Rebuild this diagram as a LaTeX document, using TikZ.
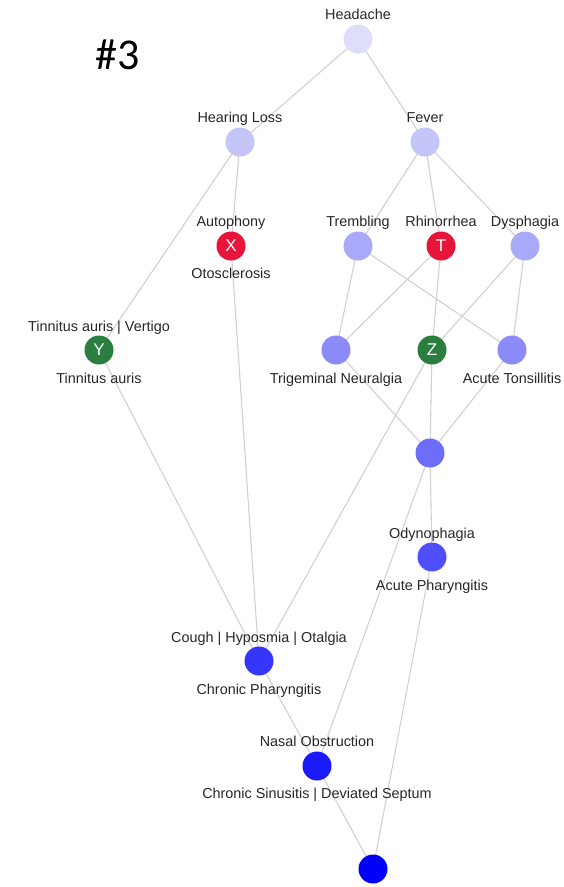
\documentclass[tikz,border=0pt]{standalone}
\usepackage{fontspec}
\setmainfont{Liberation Sans}
\newfontfamily\hashfont{Carlito}
\usetikzlibrary{backgrounds}
\begin{document}
\begin{tikzpicture}[x=1pt,y=-1pt,
  dot/.style={circle,minimum size=29pt,inner sep=0pt,font=\fontsize{17}{17}\selectfont,text=white},
  lbl/.style={anchor=base,inner sep=0pt,font=\fontsize{14.4}{17}\selectfont,text=black!85},
  edge/.style={draw=black!18,line width=1.1pt}]
\useasboundingbox (0,0) rectangle (564,887);
\definecolor{c0}{HTML}{DEDEFB}
\definecolor{c1}{HTML}{C5C5FA}
\definecolor{c2}{HTML}{A9A9FA}
\definecolor{c3}{HTML}{8B8BFA}
\definecolor{c4}{HTML}{6D6DFB}
\definecolor{c5}{HTML}{4E4EFB}
\definecolor{c6}{HTML}{3636FB}
\definecolor{c7}{HTML}{1A1AFB}
\definecolor{c8}{HTML}{0000FA}
\definecolor{cred}{HTML}{E8153A}
\definecolor{cgreen}{HTML}{2A7E3E}

\node[font=\hashfont\fontsize{44}{44}\selectfont,inner sep=0pt] (title) at (118,55) {\#3};

\node[dot,fill=c0] (head) at (358,39) {};
\node[dot,fill=c1] (hl) at (240,142) {};
\node[dot,fill=c1] (fev) at (425,142) {};
\node[dot,fill=cred] (x) at (231,246) {X};
\node[dot,fill=c2] (trem) at (358,246) {};
\node[dot,fill=cred] (t) at (441,246) {T};
\node[dot,fill=c2] (dys) at (525,246) {};
\node[dot,fill=cgreen] (y) at (99,350) {Y};
\node[dot,fill=c3] (trig) at (336,350) {};
\node[dot,fill=cgreen] (z) at (432,350) {Z};
\node[dot,fill=c3] (tons) at (512,350) {};
\node[dot,fill=c4] (mid) at (430,453) {};
\node[dot,fill=c5] (ody) at (432,557) {};
\node[dot,fill=c6] (chr) at (259,661) {};
\node[dot,fill=c7] (nas) at (317,766) {};
\node[dot,fill=c8] (bot) at (373,869) {};

\begin{scope}[on background layer]
\draw[edge] (head.center) -- (hl.center);
\draw[edge] (head.center) -- (fev.center);
\draw[edge] (hl.center) -- (y.center);
\draw[edge] (hl.center) -- (x.center);
\draw[edge] (fev.center) -- (trem.center);
\draw[edge] (fev.center) -- (t.center);
\draw[edge] (fev.center) -- (dys.center);
\draw[edge] (trem.center) -- (trig.center);
\draw[edge] (trem.center) -- (tons.center);
\draw[edge] (t.center) -- (trig.center);
\draw[edge] (t.center) -- (z.center);
\draw[edge] (dys.center) -- (z.center);
\draw[edge] (dys.center) -- (tons.center);
\draw[edge] (trig.center) -- (mid.center);
\draw[edge] (z.center) -- (mid.center);
\draw[edge] (tons.center) -- (mid.center);
\draw[edge] (z.center) -- (chr.center);
\draw[edge] (y.center) -- (chr.center);
\draw[edge] (x.center) -- (chr.center);
\draw[edge] (mid.center) -- (ody.center);
\draw[edge] (mid.center) -- (nas.center);
\draw[edge] (chr.center) -- (nas.center);
\draw[edge] (ody.center) -- (bot.center);
\draw[edge] (nas.center) -- (bot.center);
\end{scope}

\node[lbl] (head-a) at (358,19) {Headache};
\node[lbl] (hl-a) at (240,122) {Hearing Loss};
\node[lbl] (fev-a) at (425,122) {Fever};
\node[lbl] (x-a) at (231,226) {Autophony};
\node[lbl] (x-b) at (231,278) {Otosclerosis};
\node[lbl] (trem-a) at (358,226) {Trembling};
\node[lbl] (t-a) at (441,226) {Rhinorrhea};
\node[lbl] (dys-a) at (525,226) {Dysphagia};
\node[lbl] (y-a) at (99,331) {Tinnitus auris | Vertigo};
\node[lbl] (y-b) at (99,383) {Tinnitus auris};
\node[lbl] (trig-b) at (336,383) {Trigeminal Neuralgia};
\node[lbl] (tons-b) at (512,383) {Acute Tonsillitis};
\node[lbl] (ody-a) at (432,538) {Odynophagia};
\node[lbl] (ody-b) at (432,590) {Acute Pharyngitis};
\node[lbl] (chr-a) at (259,642) {Cough | Hyposmia | Otalgia};
\node[lbl] (chr-b) at (259,694) {Chronic Pharyngitis};
\node[lbl] (nas-a) at (317,746) {Nasal Obstruction};
\node[lbl] (nas-b) at (317,798) {Chronic Sinusitis | Deviated Septum};
\end{tikzpicture}
\end{document}
